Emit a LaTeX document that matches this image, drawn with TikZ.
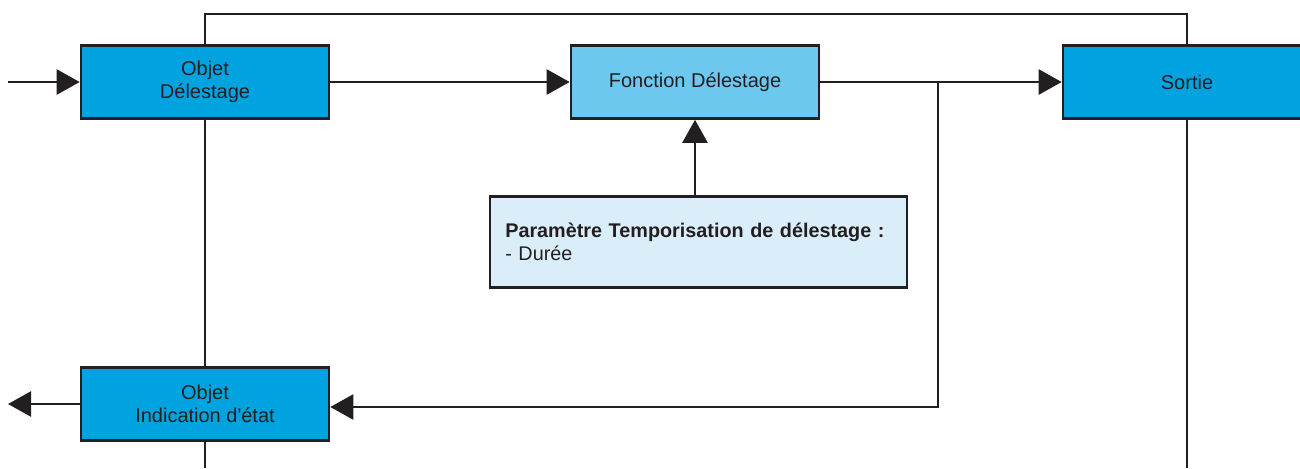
\documentclass[tikz,border=0pt]{standalone}
\usepackage{fontspec}
\setmainfont{Liberation Sans}
\usetikzlibrary{arrows.meta}
\definecolor{objblue}{RGB}{0,163,224}
\definecolor{fctblue}{RGB}{109,200,240}
\definecolor{parblue}{RGB}{218,238,249}
\definecolor{ink}{RGB}{35,31,32}
\tikzset{
  box/.style={draw=ink, line width=1.3pt, minimum width=124pt, minimum height=36.5pt,
    align=center, text=ink, font=\fontsize{10}{11.8}\selectfont},
  wire/.style={draw=ink, line width=1.2pt},
  flow/.style={wire, -{Triangle[length=11.5pt,width=12.5pt]}}
}
\begin{document}
\begin{tikzpicture}[x=0.5pt, y=-0.5pt]
  \useasboundingbox (0,0) rectangle (1300,468);
  % blocs
  \node[box, fill=objblue] (objdel) at (205,82) {Objet\\Délestage};
  \node[box, fill=fctblue] (fct) at (695,82) {Fonction Délestage};
  \node[box, fill=objblue] (sortie) at (1187,82) {Sortie};
  \node[box, fill=objblue] (objind) at (205,404) {Objet\\Indication d\textquotesingle état};
  \node[box, fill=parblue, anchor=north west, minimum width=208.5pt, minimum height=45.5pt,
    inner xsep=7.75pt, text width=193pt, align=left, font=\fontsize{9.9}{11.8}\selectfont]
    (param) at (488.5,195)
    {\textbf{Paramètre Temporisation de délestage~:}\\- Durée};
  % points libres
  \coordinate (in) at (8,82);
  \coordinate (out) at (8,404);
  \coordinate (split) at (938,82);
  \coordinate (top) at (0,14);
  \coordinate (bot) at (0,468);
  % liaisons
  \draw[flow] (in) -- (objdel);
  \draw[flow] (objdel) -- (fct);
  \draw[flow] (fct) -- (sortie);
  \draw[flow] (fct.south |- param.north) -- (fct.south);
  \draw[flow] (split) |- ([yshift=-1.5pt]objind.east);
  \draw[flow] (objind) -- (out);
  \draw[wire] (objdel.north) -- (objdel.north |- top) -| (sortie.north);
  \draw[wire] (objdel.south) -- (objind.north);
  \draw[wire] (objind.south) -- (objind.south |- bot);
  \draw[wire] (sortie.south) -- (sortie.south |- bot);
\end{tikzpicture}
\end{document}
